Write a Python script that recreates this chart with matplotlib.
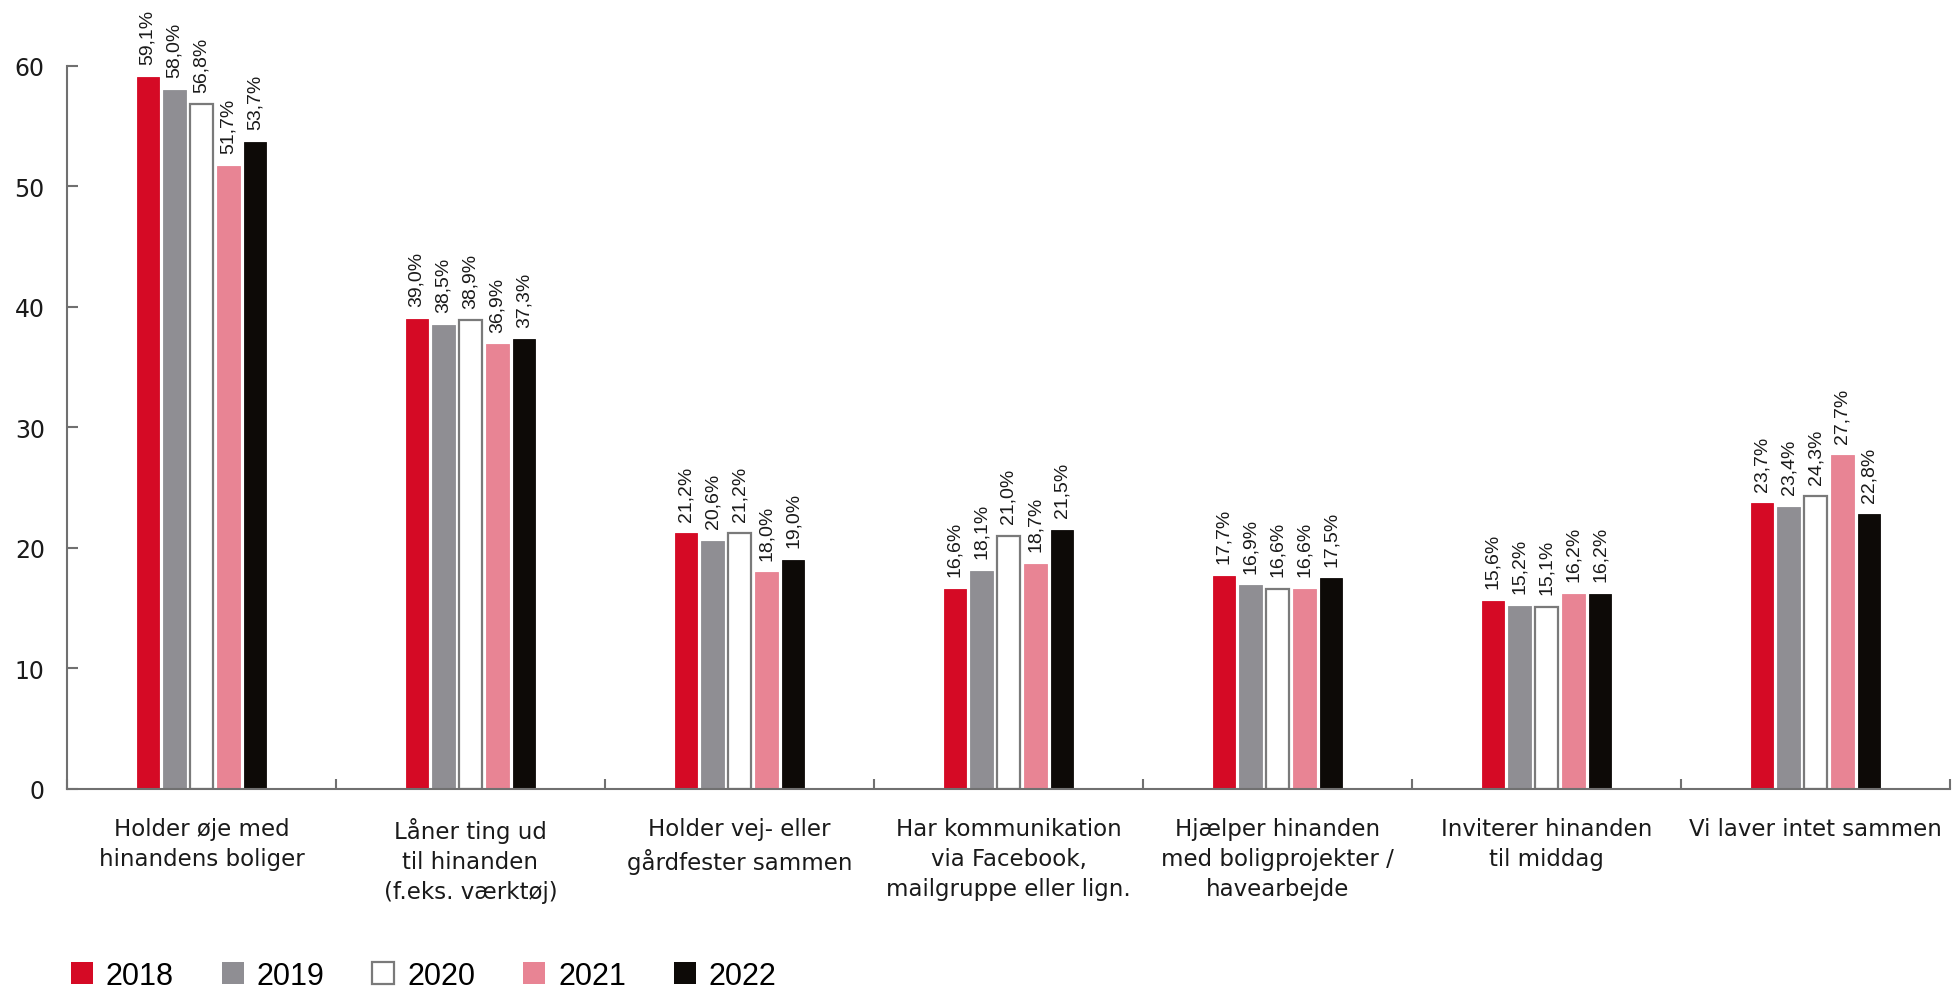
import numpy as np
import matplotlib.pyplot as plt
from matplotlib.patches import Patch

# Data
categories = [
    'Holder øje med\nhinandens boliger',
    'Låner ting ud\ntil hinanden\n(f.eks. værktøj)',
    'Holder vej- eller\ngårdfester sammen',
    'Har kommunikation\nvia Facebook,\nmailgruppe eller lign.',
    'Hjælper hinanden\nmed boligprojekter /\nhavearbejde',
    'Inviterer hinanden\ntil middag',
    'Vi laver intet sammen',
]
years = ['2018', '2019', '2020', '2021', '2022']
v2018 = [59.1, 39.0, 21.2, 16.6, 17.7, 15.6, 23.7]
v2019 = [58.0, 38.5, 20.6, 18.1, 16.9, 15.2, 23.4]
v2020 = [56.8, 38.9, 21.2, 21.0, 16.6, 15.1, 24.3]
v2021 = [51.7, 36.9, 18.0, 18.7, 16.6, 16.2, 27.7]
v2022 = [53.7, 37.3, 19.0, 21.5, 17.5, 16.2, 22.8]
yticks = [0, 10, 20, 30, 40, 50, 60]

series = [v2018, v2019, v2020, v2021, v2022]
facecolors = ['#d50a25', '#8f8e93', '#ffffff', '#e88494', '#0d0a07']
edgecolors = ['#d50a25', '#8f8e93', '#7a7a7a', '#e88494', '#0d0a07']

spine_col = '#707070'
txt_col = '#1a1a1a'

fig = plt.figure(figsize=(19.54, 9.95), dpi=100)
ax = fig.add_axes([67 / 1954, 1 - 790 / 995, 1883 / 1954, (790 - 66.7) / 995])

x = np.arange(len(categories))
pitch = 0.1
width = 0.083
for i, vals in enumerate(series):
    pos = x + (i - 2) * pitch
    lw = 1.6 if i == 2 else 0.6
    ax.bar(pos, vals, width=width, color=facecolors[i], edgecolor=edgecolors[i],
           linewidth=lw, zorder=2)
    for px, v in zip(pos, vals):
        ax.annotate(f'{v:.1f}%'.replace('.', ','), (px, v), xytext=(0, 9),
                    textcoords='offset points', rotation=90, ha='center', va='bottom',
                    fontsize=14, family='Liberation Sans', color=txt_col,
                    annotation_clip=False)

ax.set_xlim(-0.5, len(categories) - 0.5)
ax.set_ylim(0, 60)

# spines
for s in ['top', 'right']:
    ax.spines[s].set_visible(False)
for s in ['left', 'bottom']:
    ax.spines[s].set_color(spine_col)
    ax.spines[s].set_linewidth(1.5)

ax.set_yticks(yticks)
ax.set_yticklabels([str(t) for t in yticks], fontsize=17, family='DejaVu Sans', color=txt_col)
ax.tick_params(axis='y', direction='in', length=8, width=1.5, color=spine_col, pad=16)

# separators between the categories as ticks
ax.set_xticks(np.arange(len(categories) + 1) - 0.5)
ax.set_xticklabels([])
ax.tick_params(axis='x', direction='in', length=7, width=1.5, color=spine_col)

for xi, lab in zip(x, categories):
    ax.text(xi, -2.3, lab, ha='center', va='top', fontsize=16.5, family='DejaVu Sans',
            color=txt_col, linespacing=1.4, clip_on=False)

handles = [Patch(facecolor=facecolors[i], edgecolor=edgecolors[i],
                 linewidth=1.6 if i == 2 else 0) for i in range(len(years))]
fig.legend(handles, years, loc='lower left', bbox_to_anchor=(71 / 1954, 0.003),
           ncol=5, frameon=False, handlelength=0.72, handleheight=0.72,
           handletextpad=0.42, columnspacing=1.57, borderpad=0, borderaxespad=0,
           prop={'family': 'Liberation Sans', 'size': 22})

fig.savefig('out.png', dpi=100)
